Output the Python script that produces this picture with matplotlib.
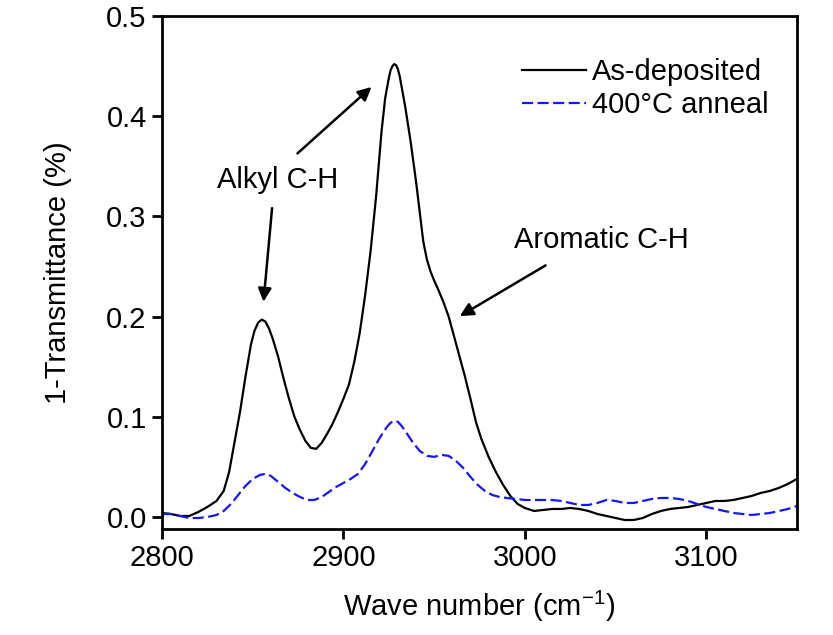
import matplotlib.pyplot as plt
import numpy as np

size = 21
plt.rcParams['font.family'] = ['Liberation Sans', 'DejaVu Sans']
plt.rcParams['mathtext.fontset'] = 'custom'
plt.rcParams['mathtext.rm'] = 'Liberation Sans'

# FTIR spectra, C-H stretch region
wn_dep = [2800, 2805, 2810, 2815, 2820, 2825, 2830, 2834, 2837, 2840, 2843, 2846,
          2849, 2851, 2853, 2855, 2857, 2859, 2861, 2864, 2867, 2870, 2873, 2876,
          2879, 2882, 2885, 2888, 2891, 2894, 2897, 2900, 2903, 2906, 2909, 2912,
          2915, 2918, 2921, 2923, 2925, 2926, 2927, 2928, 2929, 2930, 2931, 2932,
          2934, 2937, 2940, 2942, 2944, 2946, 2948, 2950, 2952, 2955, 2958, 2961,
          2964, 2967, 2970, 2973, 2976, 2980, 2984, 2988, 2992, 2996, 3000, 3005,
          3010, 3015, 3020, 3025, 3030, 3035, 3040, 3045, 3050, 3055, 3060, 3065,
          3070, 3075, 3080, 3085, 3090, 3095, 3100, 3105, 3110, 3115, 3120, 3125,
          3130, 3135, 3140, 3145, 3150]
as_deposited = [0.004, 0.003, 0.001, 0.001, 0.005, 0.010, 0.016, 0.026, 0.045, 0.075,
                0.105, 0.140, 0.172, 0.186, 0.194, 0.197, 0.195, 0.188, 0.178, 0.160,
                0.138, 0.118, 0.100, 0.087, 0.076, 0.069, 0.068, 0.074, 0.083, 0.093,
                0.105, 0.118, 0.132, 0.155, 0.184, 0.222, 0.266, 0.320, 0.385, 0.418,
                0.438, 0.446, 0.450, 0.452, 0.451, 0.447, 0.440, 0.430, 0.410, 0.375,
                0.335, 0.305, 0.275, 0.257, 0.245, 0.236, 0.228, 0.215, 0.200, 0.180,
                0.160, 0.140, 0.118, 0.095, 0.078, 0.060, 0.045, 0.032, 0.021, 0.013,
                0.009, 0.006, 0.007, 0.008, 0.008, 0.009, 0.008, 0.006, 0.003, 0.001,
                -0.001, -0.003, -0.003, -0.001, 0.003, 0.006, 0.008, 0.009, 0.010, 0.012,
                0.014, 0.016, 0.016, 0.017, 0.019, 0.021, 0.024, 0.026, 0.029, 0.033,
                0.038]

wn_ann = [2800, 2805, 2810, 2815, 2820, 2825, 2830, 2834, 2838, 2842, 2846, 2850,
          2854, 2857, 2860, 2864, 2868, 2872, 2876, 2880, 2884, 2888, 2892, 2896,
          2900, 2904, 2908, 2912, 2916, 2920, 2924, 2926, 2928, 2930, 2932, 2934,
          2938, 2942, 2946, 2950, 2954, 2958, 2962, 2966, 2970, 2974, 2978, 2982,
          2986, 2990, 2995, 3000, 3005, 3010, 3015, 3020, 3025, 3030, 3035, 3040,
          3045, 3050, 3055, 3060, 3065, 3070, 3075, 3080, 3085, 3090, 3095, 3100,
          3105, 3110, 3115, 3120, 3125, 3130, 3135, 3140, 3145, 3150]
annealed = [0.003, 0.003, 0.001, -0.001, -0.001, 0.000, 0.002, 0.006, 0.013, 0.022,
            0.031, 0.038, 0.042, 0.043, 0.041, 0.035, 0.029, 0.024, 0.020, 0.017,
            0.017, 0.020, 0.025, 0.030, 0.034, 0.038, 0.043, 0.053, 0.066, 0.079,
            0.090, 0.094, 0.096, 0.095, 0.091, 0.086, 0.075, 0.066, 0.061, 0.060,
            0.062, 0.061, 0.056, 0.049, 0.040, 0.032, 0.026, 0.022, 0.020, 0.019,
            0.018, 0.017, 0.017, 0.017, 0.017, 0.016, 0.014, 0.012, 0.012, 0.014,
            0.017, 0.016, 0.014, 0.014, 0.016, 0.018, 0.019, 0.019, 0.018, 0.016,
            0.013, 0.010, 0.008, 0.006, 0.004, 0.003, 0.002, 0.003, 0.004, 0.006,
            0.008, 0.011]

fig = plt.figure(figsize=(8.33, 6.35), dpi=100)
ax = fig.add_axes([0.1945, 0.1669, 0.7623, 0.8079])

ax.plot(wn_dep, as_deposited, color='black', lw=1.6, label='As-deposited')
ax.plot(wn_ann, annealed, color='#1515ff', lw=1.6, ls=(0, (5, 2)), label='400°C anneal')

ax.set_xlim(2800, 3150)
ax.set_ylim(-0.012, 0.5)
ax.set_xticks([2800, 2900, 3000, 3100])
ax.set_yticks(np.arange(0, 0.51, 0.1))
ax.set_yticklabels(['0.0', '0.1', '0.2', '0.3', '0.4', '0.5'])

for s in ax.spines.values():
    s.set_linewidth(2)
ax.tick_params(axis='both', direction='out', length=7, width=2, labelsize=size, pad=4)

ax.set_xlabel('Wave number (cm$^{-1}$)', fontsize=size, labelpad=12)
ax.set_ylabel('1-Transmittance (%)', fontsize=size, labelpad=25)

# peak labels
arw = dict(arrowstyle='-|>', color='black', lw=1.8, mutation_scale=20)
ax.text(2863.5, 0.336, 'Alkyl C-H', fontsize=size, ha='center', va='center')
ax.annotate('', xy=(2916.6, 0.431), xytext=(2873.5, 0.361), arrowprops=arw)
ax.annotate('', xy=(2855.8, 0.212), xytext=(2860.8, 0.311), arrowprops=arw)
ax.text(3042, 0.276, 'Aromatic C-H', fontsize=size, ha='center', va='center')
ax.annotate('', xy=(2962.8, 0.199), xytext=(3012.7, 0.2525), arrowprops=arw)

ax.legend(loc='upper right', bbox_to_anchor=(0.987, 0.958), frameon=False, fontsize=size,
          handlelength=2.2, handletextpad=0.2, labelspacing=0.18, borderaxespad=0.3)

plt.savefig('out.png', dpi=100)
